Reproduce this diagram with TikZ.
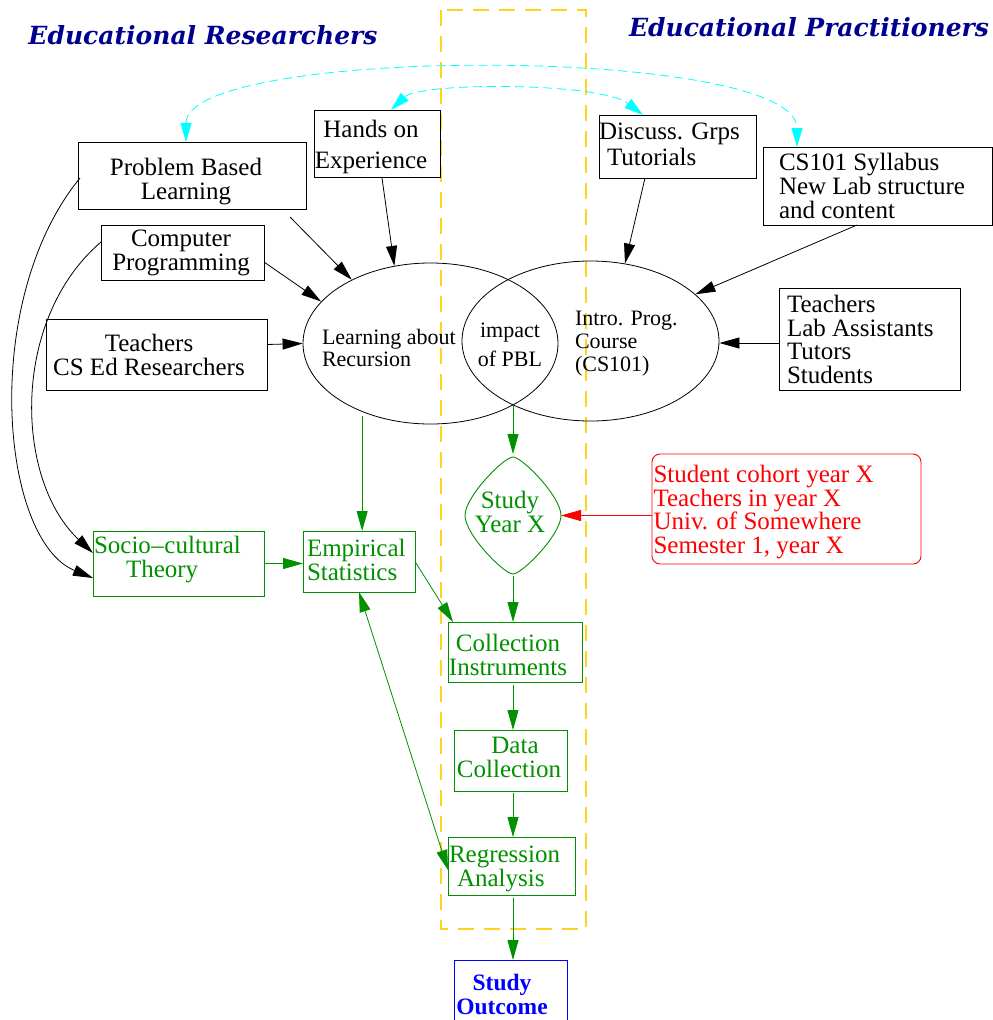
\documentclass[tikz,border=0pt]{standalone}
\usepackage{fontspec}
\setmainfont{Liberation Serif}
\newfontfamily\titlefont{DejaVu Serif}
\usetikzlibrary{shapes.geometric,arrows.meta,calc}
\definecolor{grn}{RGB}{0,144,0}
\definecolor{navy}{RGB}{0,0,144}
\definecolor{goldy}{RGB}{255,212,30}
\definecolor{cyn}{RGB}{0,255,255}
\begin{document}
\begin{tikzpicture}[x=1pt,y=-1pt,
 box/.style={draw, line width=0.9pt, inner sep=0pt, outer sep=0pt},
 txt/.style={inner sep=0pt, outer sep=0pt, font=\fontsize{25}{24}\selectfont},
 rtxt/.style={inner sep=0pt, outer sep=0pt, font=\fontsize{25}{23.5}\selectfont},
 stxt/.style={inner sep=0pt, outer sep=0pt, font=\fontsize{22}{22.5}\selectfont},
 conn/.style={line width=0.8pt, -{Triangle[length=20pt,width=11pt]}},
 gconn/.style={conn, color=grn},
 cconn/.style={line width=0.8pt, color=cyn, dash pattern=on 9pt off 5pt,
   {Triangle[length=19pt,width=11pt]}-{Triangle[length=19pt,width=11pt]}},
 title/.style={inner sep=0pt, text=navy, font=\titlefont\fontsize{25}{27}\selectfont\bfseries\itshape}
]
\useasboundingbox (0,0) rectangle (993,1020);

% yellow dashed frame
\draw[goldy, line width=1.05pt, dash pattern=on 16pt off 10pt] (441,10) rectangle (586,929);

% titles
\node[title] (t1) at (203,35) {Educational Researchers};
\node[title] (t2) at (809,27) {Educational Practitioners};

% black boxes
\node[box, minimum width=228pt, minimum height=67pt] (pbl) at (192,175.5) {};
\node[box, minimum width=126pt, minimum height=67pt] (hands) at (377,143.5) {};
\node[box, minimum width=163pt, minimum height=55pt] (comp) at (182.5,252.5) {};
\node[box, minimum width=221pt, minimum height=71pt] (teach1) at (156.5,354.5) {};
\node[box, minimum width=157pt, minimum height=63pt] (disc) at (677.5,146.5) {};
\node[box, minimum width=229pt, minimum height=78pt] (cs101) at (877.5,186) {};
\node[box, minimum width=181pt, minimum height=102pt] (teach2) at (869.5,339) {};

% ellipses
\node[draw, ellipse, line width=0.8pt, inner sep=0pt, minimum width=255pt, minimum height=161pt] (lell) at (430.5,343.5) {};
\node[draw, ellipse, line width=0.8pt, inner sep=0pt, minimum width=257pt, minimum height=160pt] (rell) at (590.5,341) {};

% green boxes
\node[box, draw=grn, minimum width=171pt, minimum height=65pt] (socio) at (178.5,563.5) {};
\node[box, draw=grn, minimum width=112pt, minimum height=61pt] (emp) at (359,561.5) {};
\node[box, draw=grn, minimum width=134pt, minimum height=60pt] (colli) at (515,652) {};
\node[box, draw=grn, minimum width=113pt, minimum height=61pt] (data) at (510.5,760.5) {};
\node[box, draw=grn, minimum width=127pt, minimum height=58pt] (regr) at (511.5,866) {};
\node[shape=diamond, inner sep=0pt, outer sep=0pt,
      minimum width=96pt, minimum height=117pt] (study) at (513,515.5) {};
\draw[grn, line width=0.9pt] (study.north)
  .. controls +(9,0) and +(0,-19) .. (study.east)
  .. controls +(0,19) and +(9,0) .. (study.south)
  .. controls +(-9,0) and +(0,19) .. (study.west)
  .. controls +(0,-19) and +(-9,0) .. (study.north);

% red box
\node[box, draw=red, rounded corners=8pt, minimum width=269pt, minimum height=110pt] (cohort) at (786.5,509) {};

% blue box (cut at bottom)
\node[box, draw=blue, minimum width=113pt, minimum height=76pt] (outc) at (510.5,998) {};

% texts
\node[txt, align=center] (pblt) at (186,182) {Problem Based\\Learning};
\node[txt, align=center, font=\fontsize{25}{31}\selectfont] (handst) at (371,146.5) {Hands on\\Experience};
\node[txt, align=center] (compt) at (181,253) {Computer\\Programming};
\node[txt, align=center] (teach1t) at (149,355) {Teachers\\CS Ed Researchers};
\node[txt, align=left, anchor=west, font=\fontsize{25}{26}\selectfont] (disct) at (599,144) {Discuss. Grps\\\hspace*{8pt}Tutorials};
\node[txt, align=left, anchor=west] (cs101t) at (779,186) {CS101 Syllabus\\New Lab structure\\and content};
\node[rtxt, align=left, anchor=west] (teach2t) at (787,339.5) {Teachers\\Lab Assistants\\Tutors\\Students};
\node[stxt, align=left, anchor=west] (learnt) at (322,348) {Learning about\\Recursion};
\node[stxt, align=center, font=\fontsize{22}{29}\selectfont] (impt) at (510,344.5) {impact\\of PBL};
\node[stxt, align=left, anchor=west, font=\fontsize{22}{23}\selectfont] (introt) at (575,344) {Intro. Prog.\\Course\\(CS101)};
\node[txt, text=grn, align=left, anchor=west] (sociot) at (94,560) {Socio{\kern0.5pt}–{\kern0.5pt}cultural\\\hspace*{32pt}Theory};
\node[txt, text=grn, align=left, anchor=west] (empt) at (307,560) {Empirical\\Statistics};
\node[txt, text=grn, align=center] (studyt) at (510,512) {Study\\Year X};
\node[txt, text=grn, align=center] (collit) at (508,655) {Collection\\Instruments};
\node[txt, text=grn, align=center] (datat) at (509,757) {\hspace*{12pt}Data\\Collection};
\node[txt, text=grn, align=left, anchor=west] (regrt) at (449,869) {Regression\\\hspace*{8pt}Analysis};
\node[rtxt, text=red, align=left, anchor=west] (cohortt) at (653.5,512) {Student cohort year X\\Teachers in year X\\Univ. of Somewhere\\Semester 1, year X};
\node[txt, text=blue, align=center, font=\fontsize{23.5}{23.5}\selectfont\bfseries] (outct) at (502,994.5) {Study\\Outcome};

\coordinate (isect) at (513,405);

% black connectors
\draw[conn] ($(pbl.south east)+(-16,8)$) -- (lell.141);
\draw[conn] ($(hands.south)+(5,1)$) -- (lell.115);
\draw[conn] ($(comp.east)+(0,9.5)$) -- (lell.159);
\draw[conn] ($(teach1.east)+(0,-10)$) -- (lell.west);
\draw[conn] ($(disc.south)+(-32.5,0)$) -- (rell.66);
\draw[conn] ($(cs101.south)+(-20.5,0)$) -- (rell.24);
\draw[conn] ($(teach2.west)+(0,4)$) -- ($(rell.east)+(0,2)$);
\draw[conn] ($(pbl.west)+(2,2.5)$) .. controls (-20,300) and (0,540) .. ($(socio.west)+(0,14.5)$);
\draw[conn] ($(comp.west)+(0,-10.5)$) .. controls (10,320) and (15,480) .. ($(socio.west)+(0,-10.5)$);

% green connectors
\draw[gconn, shorten <=4pt] (lell.225) -- (lell.225 |- emp.north);
\draw[gconn, shorten >=3pt] (isect) -- (study.north);
\draw[gconn] (socio.east) -- (socio.east -| emp.west);
\draw[gconn] (emp.east) -- ($(colli.north west)+(5,0)$);
\draw[gconn, shorten <=2pt] (study.south) -- (study.south |- colli.north);
\draw[gconn, shorten <=3pt] (study.south |- colli.south) -- (study.south |- data.north);
\draw[gconn, shorten <=2pt] (study.south |- data.south) -- (study.south |- regr.north);
\draw[gconn, shorten <=3pt] (study.south |- regr.south) -- (study.south |- outc.north);
\draw[gconn, {Triangle[length=20pt,width=11pt]}-{Triangle[length=20pt,width=11pt]}] (emp.south) -- ($(regr.west)+(0,4)$);

% red connector
\draw[conn, color=red] (cohort.west |- study.east) -- (study.east);

% cyan connectors
\draw[cconn] ($(pbl.north)+(-6,0)$) .. controls (186,45) and (797,45) .. ($(cs101.north west)+(34,0)$);
\draw[cconn] ($(hands.north)+(14,0)$) .. controls (420,82) and (600,82) .. ($(disc.north)+(-34.5,0)$);
\end{tikzpicture}
\end{document}
